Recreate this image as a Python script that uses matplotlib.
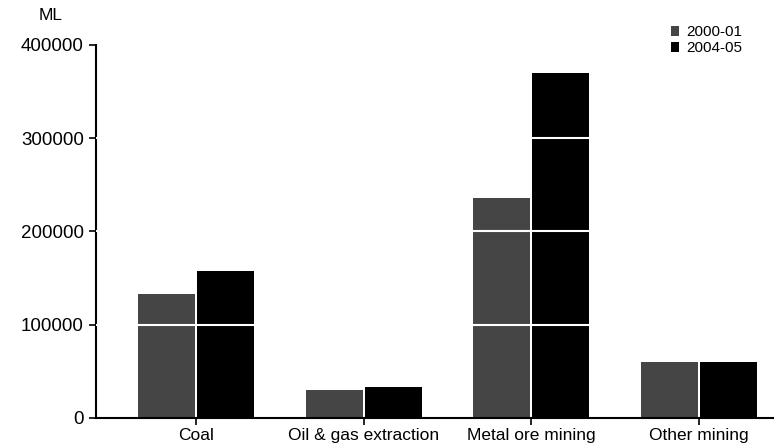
import matplotlib
matplotlib.use('Agg')
import matplotlib.pyplot as plt
import numpy as np

categories = ['Coal', 'Oil & gas extraction', 'Metal ore mining', 'Other mining']
series_names = ['2000-01', '2004-05']
vals_2000 = [133000, 30000, 236000, 60000]
vals_2004 = [157000, 33000, 370000, 60000]
yticks = [0, 100000, 200000, 300000, 400000]

plt.rcParams['font.family'] = ['Liberation Sans Narrow', 'Liberation Sans', 'DejaVu Sans']

fig = plt.figure(figsize=(7.76, 4.45), dpi=100)
ax = fig.add_axes([0.124, 0.061, 0.872, 0.838])

x = np.arange(len(categories))
w = 0.34
ax.bar(x - w / 2 - 0.006, vals_2000, w, color='#454545', label=series_names[0], zorder=2)
ax.bar(x + w / 2 + 0.006, vals_2004, w, color='#000000', label=series_names[1], zorder=2)

# white grid lines cutting through the bars
for yv in yticks[1:-1]:
    ax.axhline(yv, color='white', lw=1.5, zorder=3)

ax.set_xlim(-0.595, 3.44)
ax.set_ylim(0, 400000)
ax.set_yticks(yticks)
ax.set_yticklabels([str(v) for v in yticks], fontsize=13.5)
ax.set_xticks(x)
ax.set_xticklabels(categories, fontsize=12.5)
ax.tick_params(axis='y', length=5, width=1.2, pad=4)
ax.tick_params(axis='x', length=5, width=1.2, pad=2)
for s in ['top', 'right']:
    ax.spines[s].set_visible(False)
ax.spines['left'].set_linewidth(1.5)
ax.spines['bottom'].set_linewidth(1.5)

fig.text(0.065, 0.965, 'ML', fontsize=12.5, ha='center', va='center')

leg = ax.legend(loc='upper right', bbox_to_anchor=(0.975, 1.09), frameon=False,
                fontsize=11, handlelength=0.5, handleheight=0.6,
                handletextpad=0.5, labelspacing=0.15)

fig.savefig('out.png', dpi=100)
